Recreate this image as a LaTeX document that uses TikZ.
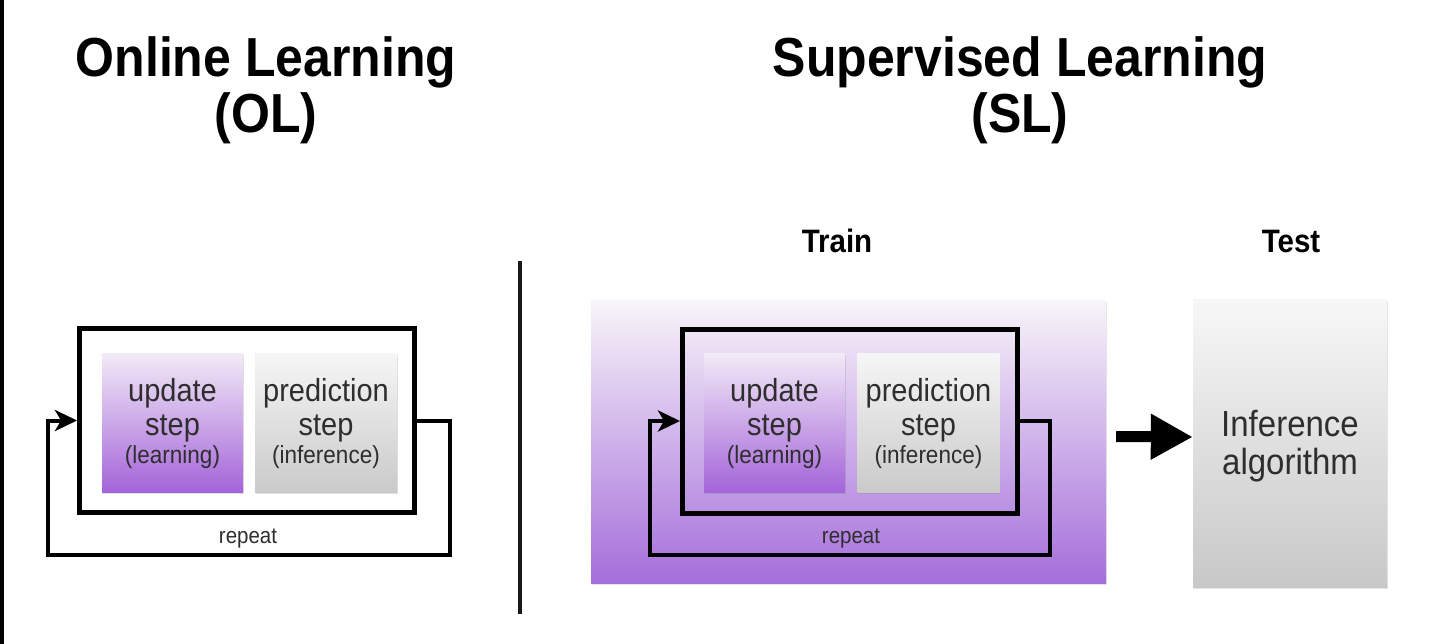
\documentclass[tikz,border=0pt]{standalone}
\usepackage{fontspec}
\setmainfont{Liberation Sans}
\usetikzlibrary{arrows.meta,shadows}
\definecolor{txt}{HTML}{2E2E2E}
\definecolor{pTop}{HTML}{F3EBF7}
\definecolor{pMid}{HTML}{CDA6E8}
\definecolor{pBot}{HTML}{A464D9}
\definecolor{gTop}{HTML}{F6F6F6}
\definecolor{gMid}{HTML}{E3E3E3}
\definecolor{gBot}{HTML}{CACACA}
\definecolor{tTop}{HTML}{F8F5F9}
\definecolor{tMid}{HTML}{CBA5E9}
\definecolor{tBot}{HTML}{A56EDB}
\definecolor{xTop}{HTML}{F7F7F7}
\definecolor{xMid}{HTML}{E4E4E4}
\definecolor{xBot}{HTML}{C8C8C8}
\newcommand{\vst}[1]{\scalebox{1}[1.1]{#1}}
\begin{document}
\begin{tikzpicture}[x=1pt,y=-1pt,
  titlef/.style={font=\bfseries\fontsize{50}{58}\selectfont, anchor=base, inner sep=0},
  headf/.style={font=\bfseries\fontsize{29.5}{34}\selectfont, anchor=base, inner sep=0},
  bigt/.style={font=\fontsize{29}{33}\selectfont, text=txt, anchor=base, inner sep=0},
  smallt/.style={font=\fontsize{22.5}{26}\selectfont, text=txt, anchor=base, inner sep=0},
  inft/.style={font=\fontsize{33}{38}\selectfont, text=txt, anchor=base, inner sep=0},
  reptxt/.style={font=\fontsize{20.5}{24}\selectfont, text=txt, anchor=base, inner sep=0},
  stepshadow/.style={drop shadow={opacity=0.25, shadow xshift=0.8pt, shadow yshift=-1.8pt}},
  updbox/.style={draw=none, inner sep=0, minimum width=141pt, minimum height=139pt,
     top color=pTop, middle color=pMid, bottom color=pBot, stepshadow},
  predbox/.style={draw=none, inner sep=0, minimum width=142pt, minimum height=139pt,
     top color=gTop, middle color=gMid, bottom color=gBot, stepshadow},
  loopframe/.style={draw=black, line width=5pt, inner sep=0, minimum width=335pt, minimum height=184pt},
  loopline/.style={draw=black, line width=4pt, -{Stealth[length=22pt,width=21pt,inset=6pt]}},
]
\useasboundingbox (0,0) rectangle (1439,644);
\fill[white] (0,0) rectangle (1439,644);
% left border bar of the frame
\fill[black] (0,0) rectangle (4,644);

% ---------- titles ----------
\node[titlef] (olt1) at (266,77) {\vst{Online Learning}};
\node[titlef] (olt2) at (266,133) {\vst{(OL)}};
\node[titlef] (slt1) at (1020,77) {\vst{Supervised Learning}};
\node[titlef] (slt2) at (1020,133) {\vst{(SL)}};

% divider
\draw[line width=3.5pt, color=black!90] (520,261) -- (520,614);

% ---------- Online learning ----------
\node[loopframe, fill=white] (olframe) at (247,420.5) {};
\node[updbox] (olupd) at (172.5,422.5) {};
\node[predbox] (olpred) at (326,422.5) {};
\node[bigt] (olu1) at (172.5,401) {\vst{update}};
\node[bigt] (olu2) at (172.5,435) {\vst{step}};
\node[smallt] (olu3) at (172.5,463) {\vst{(learning)}};
\node[bigt] (olp1) at (326,401) {\vst{prediction}};
\node[bigt] (olp2) at (326,435) {\vst{step}};
\node[smallt] (olp3) at (326,463) {\vst{(inference)}};
\coordinate (olR) at (449.5,555);
\coordinate (olL) at (48,555);
\draw[loopline] (olframe.east) -| (olR) -- (olL) |- (olframe.west);
\node[reptxt] (olrep) at (248,543) {\vst{repeat}};

% ---------- Supervised learning ----------
\node[headf] (train) at (837,253) {\vst{Train}};
\node[headf] (test) at (1291,253) {\vst{Test}};

\node[draw=none, inner sep=0, minimum width=515pt, minimum height=283pt,
      top color=tTop, middle color=tMid, bottom color=tBot,
      drop shadow={opacity=0.2, shadow xshift=0.8pt, shadow yshift=-2pt}] (trainbox) at (848.5,441.5) {};
\node[loopframe] (slframe) at (850,421) {};
\node[updbox] (slupd) at (774.5,422.5) {};
\node[predbox] (slpred) at (928.5,422.5) {};
\node[bigt] (slu1) at (774.5,401) {\vst{update}};
\node[bigt] (slu2) at (774.5,435) {\vst{step}};
\node[smallt] (slu3) at (774.5,463) {\vst{(learning)}};
\node[bigt] (slp1) at (928.5,401) {\vst{prediction}};
\node[bigt] (slp2) at (928.5,435) {\vst{step}};
\node[smallt] (slp3) at (928.5,463) {\vst{(inference)}};
\coordinate (slR) at (1050,555);
\coordinate (slL) at (649.5,555);
\draw[loopline] (slframe.east) -| (slR) -- (slL) |- (slframe.west);
\node[reptxt] (slrep) at (851,543) {\vst{repeat}};

% test box
\node[draw=none, inner sep=0, minimum width=194pt, minimum height=288pt,
      top color=xTop, middle color=xMid, bottom color=xBot,
      drop shadow={opacity=0.2, shadow xshift=0.8pt, shadow yshift=-2pt}] (testbox) at (1290,443) {};
\node[inft] (inf1) at (1290,436) {\vst{Inference}};
\node[inft] (inf2) at (1290,474) {\vst{algorithm}};

% big arrow
\draw[line width=11pt, -{Triangle[length=42pt,width=43pt]}]
  ([xshift=10pt,yshift=5pt]trainbox.east) -- ([yshift=6pt]testbox.west);
\end{tikzpicture}
\end{document}
